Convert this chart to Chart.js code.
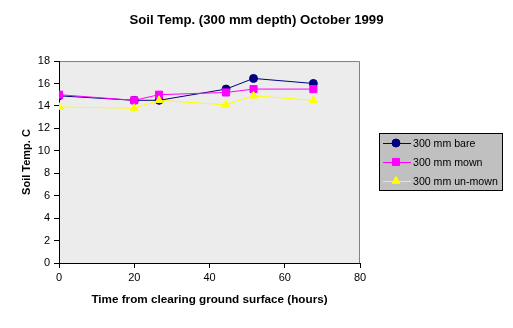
<!DOCTYPE html>
<html>
<head>
<meta charset="utf-8">
<script src="https://cdn.jsdelivr.net/npm/chart.js@4.4.2/dist/chart.umd.min.js"></script>
<style>
  html, body { margin: 0; padding: 0; background: #fff; }
  #wrap { width: 513px; height: 328px; }
</style>
</head>
<body>
<div id="wrap"><canvas id="chart" width="513" height="328"></canvas></div>
<script>
// Datos
const hours = [0, 20, 26.6, 44.4, 51.7, 67.6];
const bareTemps = [14.9, 14.5, 14.5, 15.5, 16.45, 16.0];
const mownTemps = [15.0, 14.5, 15.0, 15.2, 15.5, 15.5];
const unmownTemps = [13.9, 13.8, 14.5, 14.1, 14.9, 14.5];
const seriesNames = ['300 mm bare', '300 mm mown', '300 mm un-mown'];
const xTicks = [0, 20, 40, 60, 80];
const yTicks = [0, 2, 4, 6, 8, 10, 12, 14, 16, 18];

const toPoints = (vals) => hours.map((h, i) => ({ x: h, y: vals[i] }));

const FONT = 'Arial, "Liberation Sans", sans-serif';

// Fondo gris del área de trazado y borde superior/derecho
const plotBackground = {
    id: 'plotBackground',
    afterLayout(chart) {
        // centrar el título sobre todo el lienzo, no sólo sobre el área del gráfico
        const t = chart.titleBlock;
        if (t) { t.left = 0; t.right = chart.width; t.width = chart.width; }
    },
    beforeDraw(chart) {
        const { ctx, chartArea: a } = chart;
        ctx.save();
        ctx.fillStyle = '#ECECEC';
        ctx.fillRect(a.left, a.top, a.right - a.left, a.bottom - a.top);
        ctx.strokeStyle = '#808080';
        ctx.lineWidth = 1;
        ctx.beginPath();
        ctx.moveTo(a.left, a.top + 0.5);
        ctx.lineTo(a.right - 0.5, a.top + 0.5);
        ctx.lineTo(a.right - 0.5, a.bottom);
        ctx.stroke();
        ctx.restore();
    }
};

// Leyenda estilo Excel: caja gris con borde negro
const boxLegend = {
    id: 'boxLegend',
    afterDraw(chart) {
        const { ctx } = chart;
        const x = 379, y = 133, w = 123, h = 57;
        ctx.save();
        ctx.fillStyle = '#C0C0C0';
        ctx.fillRect(x, y, w, h);
        ctx.strokeStyle = '#000';
        ctx.lineWidth = 1;
        ctx.strokeRect(x + 0.5, y + 0.5, w, h);
        ctx.font = '10.6px ' + FONT;
        ctx.textBaseline = 'middle';
        chart.data.datasets.forEach((ds, i) => {
            const cy = y + 10 + i * 19;
            ctx.strokeStyle = ds.borderColor;
            ctx.beginPath();
            ctx.moveTo(383, cy + 0.5);
            ctx.lineTo(411, cy + 0.5);
            ctx.stroke();
            ctx.fillStyle = ds.pointBackgroundColor;
            ctx.strokeStyle = ds.pointBorderColor;
            Chart.helpers.drawPoint(ctx, {
                pointStyle: ds.pointStyle,
                radius: ds.pointRadius,
                borderWidth: 1,
                rotation: 0
            }, 396, cy);
            ctx.fillStyle = '#000';
            ctx.fillText(ds.label, 413, cy + 1);
        });
        ctx.restore();
    }
};

const makeSet = (label, vals, color, style, radius, order) => ({
    label: label,
    data: toPoints(vals),
    showLine: true,
    borderColor: color,
    backgroundColor: color,
    pointBackgroundColor: color,
    pointBorderColor: color,
    borderWidth: 1,
    pointStyle: style,
    pointRadius: radius,
    pointHoverRadius: radius,
    tension: 0,
    order: order
});

new Chart(document.getElementById('chart'), {
    type: 'scatter',
    data: {
        datasets: [
            makeSet(seriesNames[0], bareTemps, '#000080', 'circle', 4, 3),
            makeSet(seriesNames[1], mownTemps, '#FF00FF', 'rect', 5, 2),
            makeSet(seriesNames[2], unmownTemps, '#FFFF00', 'triangle', 4.5, 1)
        ]
    },
    options: {
        responsive: false,
        animation: false,
        layout: { padding: { left: 0, right: 153, top: 0, bottom: 0 } },
        plugins: {
            legend: { display: false },
            tooltip: { enabled: false },
            title: {
                display: true,
                text: 'Soil Temp. (300 mm depth) October 1999',
                color: '#000',
                font: { family: FONT, size: 13.2, weight: 'bold', lineHeight: 1.2 },
                padding: { top: 12, bottom: 33.2 }
            }
        },
        scales: {
            x: {
                type: 'linear',
                min: 0,
                max: 80,
                afterBuildTicks: (s) => { s.ticks = xTicks.map(v => ({ value: v })); },
                afterFit: (s) => { s.height = 65; },
                grid: { drawOnChartArea: false, drawTicks: true, tickLength: 5, color: '#000' },
                border: { display: true, color: '#000', width: 1 },
                ticks: { color: '#000', font: { family: FONT, size: 11 }, padding: 3, maxRotation: 0 },
                title: {
                    display: true,
                    text: 'Time from clearing ground surface (hours)',
                    color: '#000',
                    font: { family: FONT, size: 11.7, weight: 'bold', lineHeight: 1.2 },
                    padding: { top: 0, bottom: 21 }
                }
            },
            y: {
                type: 'linear',
                min: 0,
                max: 18,
                afterBuildTicks: (s) => { s.ticks = yTicks.map(v => ({ value: v })); },
                afterFit: (s) => { s.width = 59; },
                grid: { drawOnChartArea: false, drawTicks: true, tickLength: 5, color: '#000' },
                border: { display: true, color: '#000', width: 1 },
                ticks: { color: '#000', font: { family: FONT, size: 11 }, padding: 4 },
                title: {
                    display: true,
                    text: 'Soil Temp. C',
                    color: '#000',
                    font: { family: FONT, size: 11, weight: 'bold', lineHeight: 1.2 },
                    padding: { top: 20, bottom: 0 }
                }
            }
        }
    },
    plugins: [plotBackground, boxLegend]
});
</script>
</body>
</html>
